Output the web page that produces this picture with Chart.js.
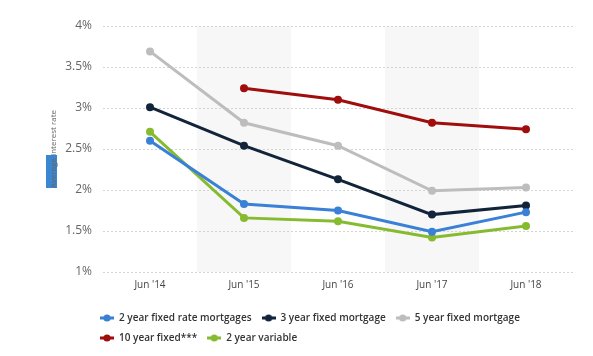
<!DOCTYPE html>
<html>
<head>
<meta charset="utf-8">
<script src="https://cdn.jsdelivr.net/npm/chart.js@4"></script>
<style>
html,body{margin:0;padding:0;background:#fff;}
#wrap{width:593px;height:356px;position:relative;}
</style>
</head>
<body>
<div id="wrap"><canvas id="c" width="593" height="356"></canvas></div>
<script>
const categories = ["Jun '14", "Jun '15", "Jun '16", "Jun '17", "Jun '18"];
const fixed2 = [2.60, 1.83, 1.75, 1.49, 1.73];
const fixed3 = [3.01, 2.54, 2.13, 1.70, 1.81];
const fixed5 = [3.69, 2.82, 2.54, 1.99, 2.03];
const fixed10 = [null, 3.24, 3.10, 2.82, 2.74];
const variable2 = [2.71, 1.66, 1.62, 1.42, 1.56];
const seriesNames = ["2 year fixed rate mortgages", "3 year fixed mortgage", "5 year fixed mortgage", "10 year fixed***", "2 year variable"];
const seriesColors = ["#3a80d6", "#12243a", "#bdbdbd", "#a00d0d", "#86bb30"];
const yAxisTitle = "Average interest rate";

function makeIcon(color){
  const cv = document.createElement('canvas');
  cv.width = 14; cv.height = 10;
  const g = cv.getContext('2d');
  g.strokeStyle = color; g.lineWidth = 3;
  g.beginPath(); g.moveTo(0,5); g.lineTo(14,5); g.stroke();
  g.fillStyle = color;
  g.beginPath(); g.arc(7,5,3.6,0,Math.PI*2); g.fill();
  return cv;
}
const icons = seriesColors.map(makeIcon);

const bandPlugin = {
  id: 'bands',
  afterLayout(chart){
    const lg = chart.legend;
    if (lg) { const dx = 13, dy = 5; lg.left -= dx; lg.right -= dx; lg.top += dy; lg.bottom += dy; }
  },
  beforeDraw(chart){
    const {ctx, chartArea, scales:{x}} = chart;
    const step = x.getPixelForValue(1) - x.getPixelForValue(0);
    ctx.save();
    ctx.fillStyle = '#f7f7f7';
    for(let i=1;i<categories.length;i+=2){
      const cx = x.getPixelForValue(i);
      ctx.fillRect(cx - step/2, chartArea.top, step, chartArea.bottom - chartArea.top);
    }
    // blue highlight on axis title
    ctx.fillStyle = '#3a86d0';
    ctx.fillRect(46, 155, 11, 33);
    ctx.restore();
  }
};

const datasets = [fixed2, fixed3, fixed5, fixed10, variable2].map((d,i)=>({
  label: seriesNames[i],
  data: d,
  borderColor: seriesColors[i],
  backgroundColor: seriesColors[i],
  borderWidth: 3,
  pointRadius: 4,
  pointHoverRadius: 4,
  pointBorderWidth: 0,
  tension: 0,
  spanGaps: false
}));

new Chart(document.getElementById('c'), {
  type: 'line',
  data: { labels: categories, datasets },
  plugins: [bandPlugin],
  options: {
    responsive: false,
    animation: false,
    devicePixelRatio: 1,
    layout: { padding: { top: 26, right: 20, left: 0, bottom: 8 } },
    scales: {
      x: {
        offset: true,
        grid: { display: false, drawTicks: false },
        border: { display: false },
        ticks: { color: '#444', font: { family: 'Open Sans', size: 10 }, padding: 7 }
      },
      y: {
        min: 1, max: 4,
        afterFit(scale){ scale.width = 103; },
        grid: { color: '#d4d4d4', drawTicks: false, lineWidth: 1 },
        border: { display: false, dash: [2,2] },
        ticks: { stepSize: 0.5, color: '#666', font: { family: 'Open Sans', size: 12 }, padding: 11,
          callback: v => v + '%' },
        title: { display: true, text: yAxisTitle, color: '#666', font: { family: 'Open Sans', size: 8 }, padding: { top: 49, bottom: 0 } }
      }
    },
    plugins: {
      tooltip: { enabled: false },
      legend: {
        position: 'bottom',
        align: 'start',
        fullSize: false,
        labels: {
          usePointStyle: true,
          pointStyleWidth: 14,
          boxHeight: 9,
          padding: 10,
          color: '#333',
          font: { family: 'Open Sans', size: 10, weight: '600', lineHeight: 0.8 },
          generateLabels(chart){
            const items = Chart.defaults.plugins.legend.labels.generateLabels(chart);
            items.forEach((it,i)=>{ it.pointStyle = icons[i]; });
            return items;
          }
        }
      }
    }
  }
});
</script>
</body>
</html>
